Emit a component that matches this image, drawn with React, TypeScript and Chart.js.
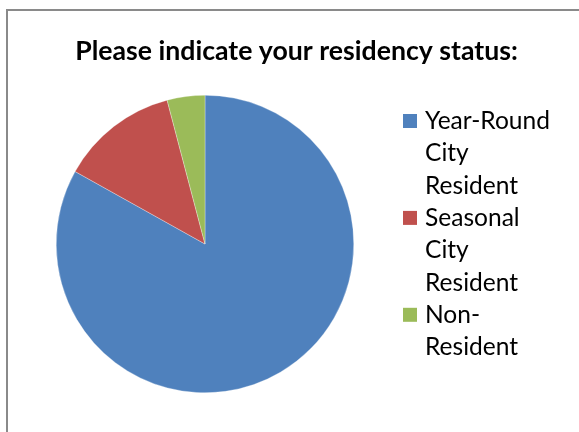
import React, { useEffect, useRef } from "react";
import { Chart, registerables } from "chart.js";

Chart.register(...registerables);

const TITLE = "Please indicate your residency status:";
const categories = ["Year-Round City Resident", "Seasonal City Resident", "Non-Resident"];
const legendLines = [["Year-Round", "City", "Resident"], ["Seasonal", "City", "Resident"], ["Non-", "Resident"]];
const values = [83.1, 12.8, 4.1];
const colors = ["#4F81BD", "#C0504D", "#9BBB59"];

const FONT = "Lato, 'Open Sans', sans-serif";

function fitFont(ctx: CanvasRenderingContext2D, text: string, weight: string, target: number) {
  ctx.font = `${weight} 20px ${FONT}`;
  const w = ctx.measureText(text).width;
  return (20 * target) / w;
}

const decorPlugin = {
  id: "decor",
  beforeDraw(chart: any) {
    const ctx = chart.ctx as CanvasRenderingContext2D;
    ctx.save();
    ctx.fillStyle = "#ffffff";
    ctx.fillRect(0, 0, chart.width, chart.height);
    ctx.strokeStyle = "#8a8a8a";
    ctx.lineWidth = 2;
    ctx.beginPath();
    ctx.moveTo(7, chart.height + 5);
    ctx.lineTo(7, 10);
    ctx.lineTo(chart.width + 5, 10);
    ctx.stroke();
    ctx.restore();
  },
  afterDraw(chart: any) {
    const ctx = chart.ctx as CanvasRenderingContext2D;
    ctx.save();
    // title
    const ts = fitFont(ctx, TITLE, "bold", 443);
    ctx.font = `bold ${ts}px ${FONT}`;
    ctx.fillStyle = "#000000";
    ctx.textAlign = "center";
    ctx.textBaseline = "alphabetic";
    ctx.fillText(TITLE, 296.5, 60);
    // legend
    const ls = fitFont(ctx, "Year-Round", "normal", 125);
    ctx.font = `normal ${ls}px ${FONT}`;
    ctx.textAlign = "left";
    const lineH = 32.3;
    let baseline = 129;
    legendLines.forEach((lines, i) => {
      ctx.fillStyle = colors[i];
      ctx.fillRect(403, baseline - 15, 14, 14);
      ctx.fillStyle = "#000000";
      lines.forEach((ln) => {
        ctx.fillText(ln, 425, baseline);
        baseline += lineH;
      });
    });
    ctx.restore();
  },
};

export default function App() {
  const ref = useRef<HTMLCanvasElement | null>(null);
  useEffect(() => {
    if (!ref.current) return;
    const chart = new Chart(ref.current, {
      type: "pie",
      data: {
        labels: categories,
        datasets: [
          {
            data: values,
            backgroundColor: colors,
            borderColor: "rgba(255,255,255,0.6)",
            borderWidth: 0.5,
          },
        ],
      },
      options: {
        animation: false,
        responsive: false,
        maintainAspectRatio: false,
        devicePixelRatio: 1,
        layout: { padding: { left: 56, right: 225, top: 95, bottom: 39 } },
        plugins: {
          legend: { display: false },
          title: { display: false },
          tooltip: { enabled: false },
        },
      },
      plugins: [decorPlugin],
    });
    return () => chart.destroy();
  }, []);
  return (
    <div style={{ position: "absolute", left: 0, top: 0, width: 579, height: 432 }}>
      <canvas ref={ref} width={579} height={432} style={{ width: 579, height: 432 }} />
    </div>
  );
}
